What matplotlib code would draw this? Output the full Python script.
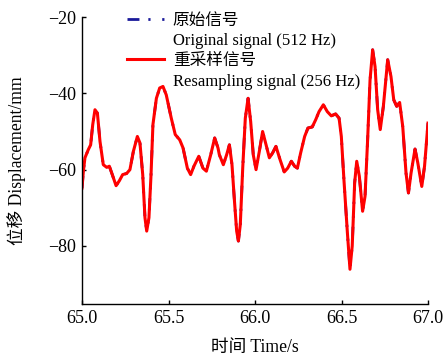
import matplotlib
matplotlib.use("Agg")
from matplotlib import pyplot as plt
from matplotlib.lines import Line2D

# values (time in s, displacement in mm)
time_s = [65.000, 65.008, 65.017, 65.036, 65.050, 65.062, 65.075, 65.089, 65.104, 65.123,
          65.143, 65.158, 65.172, 65.197, 65.216, 65.235, 65.258, 65.277, 65.297, 65.320,
          65.335, 65.351, 65.364, 65.374, 65.387, 65.399, 65.410, 65.430, 65.449, 65.468,
          65.487, 65.516, 65.539, 65.565, 65.584, 65.609, 65.628, 65.647, 65.675, 65.699,
          65.719, 65.744, 65.767, 65.786, 65.794, 65.817, 65.836, 65.852, 65.867, 65.880,
          65.894, 65.904, 65.915, 65.929, 65.944, 65.960, 65.975, 65.990, 66.006, 66.025,
          66.044, 66.064, 66.083, 66.102, 66.121, 66.145, 66.169, 66.189, 66.210, 66.229,
          66.245, 66.264, 66.287, 66.306, 66.331, 66.351, 66.370, 66.395, 66.418, 66.441,
          66.466, 66.486, 66.499, 66.514, 66.534, 66.549, 66.562, 66.576, 66.588, 66.603,
          66.622, 66.636, 66.651, 66.665, 66.680, 66.694, 66.709, 66.724, 66.742, 66.767,
          66.786, 66.802, 66.819, 66.836, 66.854, 66.873, 66.887, 66.902, 66.925, 66.941,
          66.964, 66.980, 67.000]
disp_mm = [-64.8, -60.4, -56.9, -54.8, -53.5, -48.2, -44.3, -45.2, -52.6, -58.7,
           -59.4, -59.1, -60.9, -64.2, -62.9, -61.3, -61.0, -60.0, -55.2, -51.3,
           -53.0, -61.3, -72.6, -76.1, -72.6, -61.3, -48.2, -41.3, -38.6, -38.2,
           -40.4, -46.5, -50.8, -52.2, -54.3, -59.6, -61.3, -59.1, -56.5, -59.6,
           -60.4, -56.1, -51.7, -54.3, -56.1, -58.7, -56.1, -53.5, -58.7, -67.4,
           -76.1, -78.7, -74.4, -59.6, -46.5, -41.3, -47.4, -56.1, -60.0, -55.2,
           -50.0, -53.5, -56.9, -55.6, -53.9, -57.4, -60.6, -59.6, -57.8, -59.1,
           -59.6, -55.6, -51.3, -49.1, -48.8, -46.9, -44.8, -43.0, -44.8, -45.9,
           -45.4, -46.5, -51.3, -62.6, -76.5, -86.1, -80.0, -63.5, -57.8, -61.7,
           -70.9, -67.0, -52.2, -36.5, -28.6, -33.0, -44.3, -49.5, -43.4, -31.2,
           -35.6, -41.7, -43.4, -42.4, -48.7, -60.9, -66.1, -60.9, -54.6, -58.2,
           -64.4, -59.1, -47.8]

x_ticks = [65.0, 65.5, 66.0, 66.5, 67.0]
y_ticks = [-80, -60, -40, -20]

serif = ['Liberation Serif', 'Noto Sans CJK SC']
plt.rcParams['font.family'] = serif
plt.rcParams['axes.unicode_minus'] = True

blue_style = (0, (4.3, 3.2, 0.8, 4.2, 0.8, 4.0))

fig = plt.figure(figsize=(4.46, 3.58), dpi=100)
ax = fig.add_axes([82/446, 1-304/358, 346/446, 287/358])

# original signal sits under the resampled one
ax.plot(time_s, disp_mm, color='#1a1a9a', lw=2, linestyle=blue_style)
ax.plot(time_s, disp_mm, color='#ff0000', lw=2.2, solid_joinstyle='round')

ax.set_xlim(65.0, 67.0)
ax.set_ylim(-95.2, -20)
ax.set_xticks(x_ticks)
ax.set_xticklabels(['%.1f' % v for v in x_ticks])
ax.set_yticks(y_ticks)
ax.set_yticklabels(['\u2212%d' % abs(v) for v in y_ticks])
ax.tick_params(direction='in', length=3, width=1, labelsize=13, pad=4, colors='black')

ax.spines['top'].set_visible(False)
ax.spines['right'].set_visible(False)
for s in ['left', 'bottom']:
    ax.spines[s].set_linewidth(1)

ax.set_xlabel('时间 Time/s', fontsize=12.7, labelpad=9)
ax.set_ylabel('位移 Displacement/mm', fontsize=12.7, labelpad=16)

handles = [Line2D([], [], color='#1a1a9a', lw=2, linestyle=blue_style),
           Line2D([], [], color='none'),
           Line2D([], [], color='#ff0000', lw=2.2),
           Line2D([], [], color='none')]
labels = ['原始信号', 'Original signal (512 Hz)', '重采样信号', 'Resampling signal (256 Hz)']
fig.legend(handles, labels, loc='upper left', bbox_to_anchor=(127/446, 1-13/358),
           frameon=False, fontsize=12, handlelength=2.2, handletextpad=0.55,
           labelspacing=0.25, borderpad=0, borderaxespad=0)

fig.savefig('out.png', dpi=100)
